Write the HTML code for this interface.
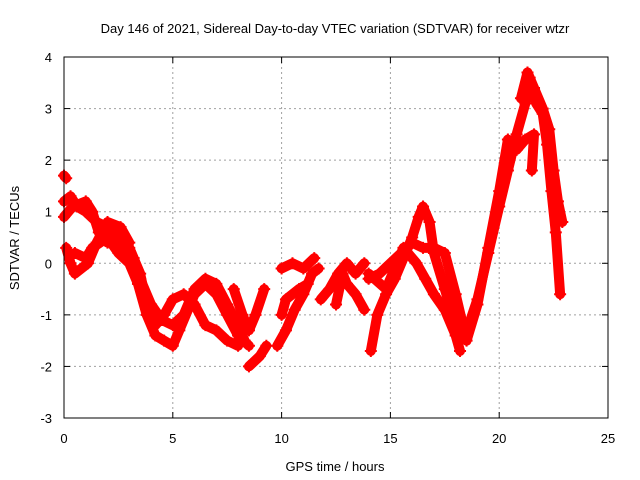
<!DOCTYPE html>
<html><head><meta charset="utf-8"><style>
body{margin:0;background:#fff}
svg{display:block;font-family:"Liberation Sans",sans-serif;font-size:13px}
</style></head><body>
<svg id="c" width="640" height="480">
<text x="335" y="33" text-anchor="middle">Day 146 of 2021, Sidereal Day-to-day VTEC variation (SDTVAR) for receiver wtzr</text>
<text x="335" y="471" text-anchor="middle">GPS time / hours</text>
<text transform="translate(19,238) rotate(-90)" text-anchor="middle">SDTVAR / TECUs</text>
<g id="grid"></g><g id="ticks"></g><g id="data"></g>
<rect x="64" y="57" width="544" height="361" fill="none" stroke="#000" stroke-width="1"/>
</svg>
<script>
const xTicks=[0,5,10,15,20,25];
const yTicks=[-3,-2,-1,0,1,2,3,4];
const traceA=[[0,1.2],[0.3,1.3],[0.6,1.1],[1,1.0],[1.5,0.8],[2,0.7],[2.5,0.5],[3,0.2],[3.5,-0.3],[4,-0.8],[4.5,-1.1],[5,-1.2],[5.5,-1.0],[6,-0.5],[6.5,-0.3],[7,-0.4],[7.5,-0.8],[8,-1.2],[8.3,-1.5]];
const traceA2=[[0,0.9],[0.4,1.1],[1,1.2],[1.3,1.0],[1.6,0.6],[2,0.4],[2.4,0.7],[2.8,0.5],[3.2,0.1]];
const traceA3=[[0.1,0.3],[0.3,0.0],[0.5,-0.2],[1.1,0.0],[1.5,0.4],[2,0.8],[2.6,0.7],[3,0.4]];
const traceB=[[0.5,0.2],[1,0.1],[1.3,0.3],[2,0.5],[2.5,0.2],[3,0.0],[3.4,-0.4],[3.8,-1.0],[4.2,-1.4],[4.6,-1.5],[5,-1.6],[5.3,-1.3],[5.7,-0.9],[6,-0.6],[6.5,-0.4],[7,-0.6],[7.5,-1.0],[8,-1.4],[8.5,-1.6]];
const traceC=[[3,0.3],[3.5,-0.2],[3.8,-0.8],[4.2,-1.2],[4.6,-1.0],[5,-0.7],[5.5,-0.6],[6,-0.8],[6.5,-1.2],[7,-1.3],[7.5,-1.5],[8,-1.6]];
const traceD=[[8.5,-2.0],[9,-1.8],[9.3,-1.6]];
const traceE=[[7.8,-0.5],[8.2,-1.0],[8.5,-1.3],[8.8,-1.0],[9.2,-0.5]];
const traceF=[[9.8,-1.6],[10.2,-1.3],[10.6,-0.9],[11,-0.6],[11.4,-0.2],[11.7,-0.1]];
const traceF2=[[10,-0.1],[10.5,0],[11,-0.1],[11.5,0.1]];
const traceF3=[[10,-1.0],[10.2,-0.7],[10.8,-0.5],[11.2,-0.4]];
const traceG=[[11.8,-0.7],[12.2,-0.5],[12.6,-0.2],[13,0],[13.4,-0.2],[13.8,0]];
const traceG2=[[12.5,-0.8],[12.8,-0.2],[13,-0.4],[13.4,-0.6],[13.8,-0.9]];
const traceH=[[14.1,-1.7],[14.4,-1.0],[14.8,-0.6],[15.2,-0.3],[15.6,0.1],[16,0.5],[16.3,0.9],[16.5,1.1],[16.8,0.8],[17,0.2],[17.5,-0.5],[18,-1.2],[18.3,-1.4],[18.6,-1.2],[19,-0.7],[19.5,0.2],[20,1.1],[20.4,1.8],[20.8,2.5],[21.2,3.1],[21.4,3.6],[21.7,3.1],[22,2.9],[22.2,2.3],[22.4,1.4],[22.6,0.6],[22.8,-0.6]];
const traceI=[[14,-0.3],[14.5,-0.2],[15,0],[15.5,0.2],[16,0.4],[16.5,0.3],[17,0.3],[17.5,0.2],[18,-0.6],[18.5,-1.5],[19,-0.8],[19.5,0.3],[20,1.4],[20.4,2.4],[20.8,2.2],[21.2,2.4],[21.6,2.5],[21.5,1.8]];
const traceJ=[[14,-0.2],[14.8,-0.5],[15.2,-0.1],[15.6,0.3],[16.2,0],[16.6,-0.3],[17,-0.6],[17.5,-0.9],[18,-1.4],[18.2,-1.7]];
const traceK=[[21,3.2],[21.3,3.7],[21.6,3.4],[22,3.0],[22.3,2.6],[22.5,1.8],[22.7,1.2],[22.9,0.8]];
const traceL=[[0,1.7],[0.1,1.65]];
const traces=[traceA,traceA2,traceA3,traceB,traceC,traceD,traceE,traceF,traceF2,traceF3,traceG,traceG2,traceH,traceI,traceJ,traceK,traceL];
const NS="http://www.w3.org/2000/svg";
const X=v=>64+v*544/25, Y=v=>418-(v+3)*361/7;
const grid=document.getElementById('grid'),ticks=document.getElementById('ticks'),data=document.getElementById('data');
function mk(tag,a,p){const e=document.createElementNS(NS,tag);for(const k in a)e.setAttribute(k,a[k]);p.appendChild(e);return e;}
xTicks.forEach(t=>{const x=X(t);
 if(t>0&&t<25){const g=mk('line',{x1:x,x2:x,y1:57,y2:418,stroke:'#a0a0a0','stroke-dasharray':'2,3'},grid);
 
 }
 const l=mk('text',{x:x,y:443,'text-anchor':'middle'},ticks);l.textContent=t;
 
 
 mk('line',{x1:x,x2:x,y1:418,y2:412,stroke:'#000'},ticks);mk('line',{x1:x,x2:x,y1:57,y2:63,stroke:'#000'},ticks);});
yTicks.forEach(t=>{const y=Y(t);
 if(t>-3&&t<4){const g=mk('line',{x1:64,x2:608,y1:y,y2:y,stroke:'#a0a0a0','stroke-dasharray':'2,3'},grid);
 
 }
 const l=mk('text',{x:52,y:y+5,'text-anchor':'end'},ticks);l.textContent=t;
 
 
 mk('line',{x1:64,x2:70,y1:y,y2:y,stroke:'#000'},ticks);mk('line',{x1:608,x2:602,y1:y,y2:y,stroke:'#000'},ticks);});
traces.forEach(tr=>{
 const pl=mk('polyline',{points:tr.map(p=>X(p[0])+','+Y(p[1])).join(' '),fill:'none',stroke:'#f00','stroke-width':10,'stroke-linejoin':'round','stroke-linecap':'round'},data);
 
 
 tr.forEach(p=>{const x=X(p[0]),y=Y(p[1]);
  const m=mk('path',{d:`M${x-6},${y}h12M${x},${y-6}v12`,stroke:'#f00','stroke-width':2},data);
  
  });
});
</script>
</body></html>
